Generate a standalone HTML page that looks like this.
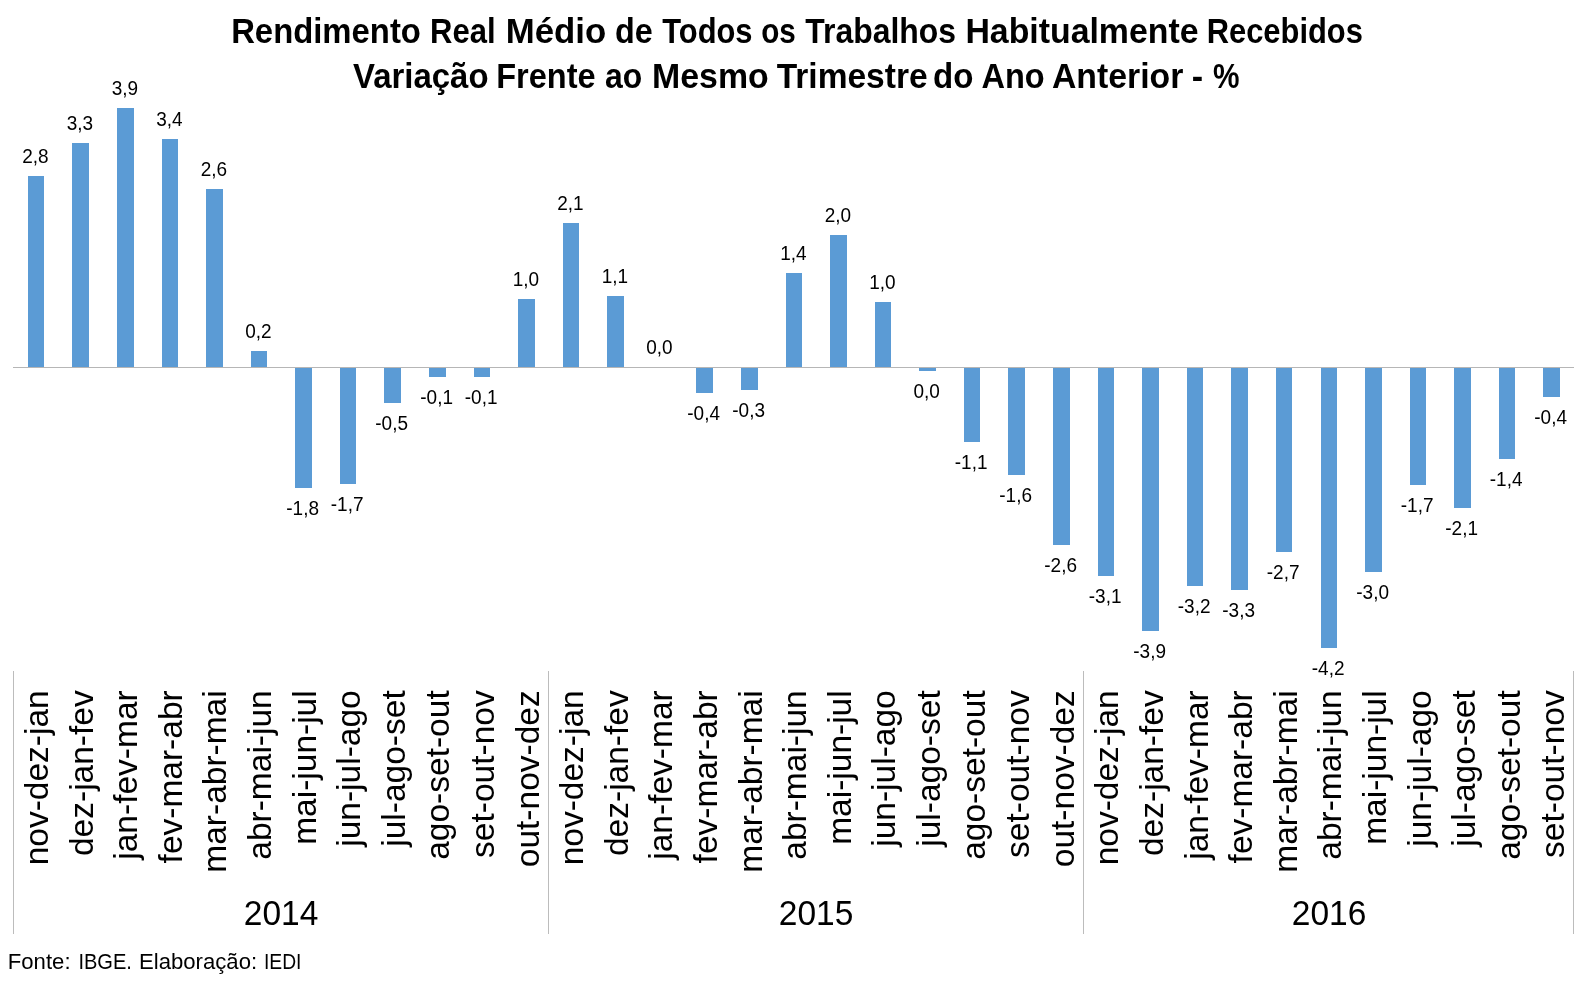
<!DOCTYPE html>
<html><head><meta charset="utf-8"><title>Rendimento Real Médio</title>
<style>html,body{margin:0;padding:0;background:#fff}body{width:1583px;height:986px;overflow:hidden}svg{display:block;will-change:transform}text{font-family:"Liberation Sans",sans-serif;fill:#000}</style></head><body>
<svg width="1583" height="986" viewBox="0 0 1583 986">
<rect width="1583" height="986" fill="#ffffff"/>
<g font-weight="bold" font-size="34.4px">
<text transform="translate(231.15,42.8) scale(0.9548,1)">Rendimento</text>
<text transform="translate(430.10,42.8) scale(0.9014,1)">Real</text>
<text transform="translate(505.79,42.8) scale(1.0112,1)">Médio</text>
<text transform="translate(615.06,42.8) scale(0.9410,1)">de</text>
<text transform="translate(662.20,42.8) scale(0.8980,1)">Todos</text>
<text transform="translate(761.24,42.8) scale(0.8632,1)">os</text>
<text transform="translate(805.30,42.8) scale(0.9278,1)">Trabalhos</text>
<text transform="translate(965.42,42.8) scale(0.9838,1)">Habitualmente</text>
<text transform="translate(1206.70,42.8) scale(0.8983,1)">Recebidos</text>
<text transform="translate(353.00,87.8) scale(0.9582,1)">Variação</text>
<text transform="translate(496.25,87.8) scale(0.9452,1)">Frente</text>
<text transform="translate(605.00,87.8) scale(0.9275,1)">ao</text>
<text transform="translate(652.02,87.8) scale(0.9846,1)">Mesmo</text>
<text transform="translate(776.70,87.8) scale(0.9747,1)">Trimestre</text>
<text transform="translate(933.04,87.8) scale(0.9625,1)">do</text>
<text transform="translate(981.45,87.8) scale(0.9462,1)">Ano</text>
<text transform="translate(1051.92,87.8) scale(0.9827,1)">Anterior</text>
<text transform="translate(1191.71,87.8) scale(0.9900,1)">-</text>
<text transform="translate(1213.00,87.8) scale(0.8667,1)">%</text>
</g>
<g fill="#5b9bd5" shape-rendering="crispEdges">
<rect x="28" y="176" width="16" height="191"/>
<rect x="72" y="143" width="17" height="224"/>
<rect x="117" y="108" width="17" height="259"/>
<rect x="162" y="139" width="16" height="228"/>
<rect x="206" y="189" width="17" height="178"/>
<rect x="251" y="351" width="16" height="16"/>
<rect x="295" y="367" width="17" height="121"/>
<rect x="340" y="367" width="16" height="117"/>
<rect x="384" y="367" width="17" height="36"/>
<rect x="429" y="367" width="17" height="10"/>
<rect x="474" y="367" width="16" height="10"/>
<rect x="518" y="299" width="17" height="68"/>
<rect x="563" y="223" width="16" height="144"/>
<rect x="607" y="296" width="17" height="71"/>
<rect x="696" y="367" width="17" height="26"/>
<rect x="741" y="367" width="17" height="23"/>
<rect x="786" y="273" width="16" height="94"/>
<rect x="830" y="235" width="17" height="132"/>
<rect x="875" y="302" width="16" height="65"/>
<rect x="919" y="367" width="17" height="4"/>
<rect x="964" y="367" width="16" height="75"/>
<rect x="1008" y="367" width="17" height="108"/>
<rect x="1053" y="367" width="17" height="178"/>
<rect x="1098" y="367" width="16" height="209"/>
<rect x="1142" y="367" width="17" height="264"/>
<rect x="1187" y="367" width="16" height="219"/>
<rect x="1231" y="367" width="17" height="223"/>
<rect x="1276" y="367" width="16" height="185"/>
<rect x="1321" y="367" width="16" height="281"/>
<rect x="1365" y="367" width="17" height="205"/>
<rect x="1410" y="367" width="16" height="118"/>
<rect x="1454" y="367" width="17" height="141"/>
<rect x="1499" y="367" width="16" height="92"/>
<rect x="1543" y="367" width="17" height="30"/>
</g>
<g fill="#b6b6b6" shape-rendering="crispEdges">
<rect x="13" y="367" width="1561" height="1"/>
</g><g fill="#bcbcbc" shape-rendering="crispEdges">
<rect x="13" y="671" width="1" height="263"/>
<rect x="548" y="671" width="1" height="263"/>
<rect x="1083" y="671" width="1" height="263"/>
<rect x="1573" y="671" width="1" height="263"/>
</g>
<g font-size="19.0px" text-anchor="middle">
<text transform="translate(35.35,162.6) scale(1,1.055)">2,8</text>
<text transform="translate(79.85,129.6) scale(1,1.055)">3,3</text>
<text transform="translate(124.85,94.6) scale(1,1.055)">3,9</text>
<text transform="translate(169.35,125.6) scale(1,1.055)">3,4</text>
<text transform="translate(213.85,175.6) scale(1,1.055)">2,6</text>
<text transform="translate(258.35,337.6) scale(1,1.055)">0,2</text>
<text transform="translate(302.60,515.1) scale(1,1.055)">-1,8</text>
<text transform="translate(347.10,511.1) scale(1,1.055)">-1,7</text>
<text transform="translate(391.60,430.1) scale(1,1.055)">-0,5</text>
<text transform="translate(436.60,404.1) scale(1,1.055)">-0,1</text>
<text transform="translate(481.10,404.1) scale(1,1.055)">-0,1</text>
<text transform="translate(525.85,285.6) scale(1,1.055)">1,0</text>
<text transform="translate(570.35,209.6) scale(1,1.055)">2,1</text>
<text transform="translate(614.85,282.6) scale(1,1.055)">1,1</text>
<text transform="translate(659.35,353.6) scale(1,1.055)">0,0</text>
<text transform="translate(703.60,420.1) scale(1,1.055)">-0,4</text>
<text transform="translate(748.60,417.1) scale(1,1.055)">-0,3</text>
<text transform="translate(793.35,259.6) scale(1,1.055)">1,4</text>
<text transform="translate(837.85,221.6) scale(1,1.055)">2,0</text>
<text transform="translate(882.35,288.6) scale(1,1.055)">1,0</text>
<text transform="translate(926.60,398.1) scale(1,1.055)">0,0</text>
<text transform="translate(971.10,469.1) scale(1,1.055)">-1,1</text>
<text transform="translate(1015.60,502.1) scale(1,1.055)">-1,6</text>
<text transform="translate(1060.60,572.1) scale(1,1.055)">-2,6</text>
<text transform="translate(1105.10,603.1) scale(1,1.055)">-3,1</text>
<text transform="translate(1149.60,658.1) scale(1,1.055)">-3,9</text>
<text transform="translate(1194.10,613.1) scale(1,1.055)">-3,2</text>
<text transform="translate(1238.60,617.1) scale(1,1.055)">-3,3</text>
<text transform="translate(1283.10,579.1) scale(1,1.055)">-2,7</text>
<text transform="translate(1328.10,675.1) scale(1,1.055)">-4,2</text>
<text transform="translate(1372.60,599.1) scale(1,1.055)">-3,0</text>
<text transform="translate(1417.10,512.1) scale(1,1.055)">-1,7</text>
<text transform="translate(1461.60,535.1) scale(1,1.055)">-2,1</text>
<text transform="translate(1506.10,486.1) scale(1,1.055)">-1,4</text>
<text transform="translate(1550.60,424.1) scale(1,1.055)">-0,4</text>
</g>
<g font-size="33.5px" text-anchor="end">
<text transform="translate(47.9,690.3) rotate(-90)">nov-dez-jan</text>
<text transform="translate(92.5,690.3) rotate(-90)">dez-jan-fev</text>
<text transform="translate(137.1,690.3) rotate(-90)">jan-fev-mar</text>
<text transform="translate(181.7,690.3) rotate(-90)">fev-mar-abr</text>
<text transform="translate(226.3,690.3) rotate(-90)">mar-abr-mai</text>
<text transform="translate(270.9,690.3) rotate(-90)">abr-mai-jun</text>
<text transform="translate(315.5,690.3) rotate(-90)">mai-jun-jul</text>
<text transform="translate(360.1,690.3) rotate(-90)">jun-jul-ago</text>
<text transform="translate(404.7,690.3) rotate(-90)">jul-ago-set</text>
<text transform="translate(449.3,690.3) rotate(-90)">ago-set-out</text>
<text transform="translate(493.9,690.3) rotate(-90)">set-out-nov</text>
<text transform="translate(538.5,690.3) rotate(-90)">out-nov-dez</text>
<text transform="translate(583.1,690.3) rotate(-90)">nov-dez-jan</text>
<text transform="translate(627.7,690.3) rotate(-90)">dez-jan-fev</text>
<text transform="translate(672.3,690.3) rotate(-90)">jan-fev-mar</text>
<text transform="translate(716.9,690.3) rotate(-90)">fev-mar-abr</text>
<text transform="translate(761.5,690.3) rotate(-90)">mar-abr-mai</text>
<text transform="translate(806.1,690.3) rotate(-90)">abr-mai-jun</text>
<text transform="translate(850.7,690.3) rotate(-90)">mai-jun-jul</text>
<text transform="translate(895.3,690.3) rotate(-90)">jun-jul-ago</text>
<text transform="translate(939.9,690.3) rotate(-90)">jul-ago-set</text>
<text transform="translate(984.5,690.3) rotate(-90)">ago-set-out</text>
<text transform="translate(1029.1,690.3) rotate(-90)">set-out-nov</text>
<text transform="translate(1073.7,690.3) rotate(-90)">out-nov-dez</text>
<text transform="translate(1118.3,690.3) rotate(-90)">nov-dez-jan</text>
<text transform="translate(1162.9,690.3) rotate(-90)">dez-jan-fev</text>
<text transform="translate(1207.5,690.3) rotate(-90)">jan-fev-mar</text>
<text transform="translate(1252.1,690.3) rotate(-90)">fev-mar-abr</text>
<text transform="translate(1296.7,690.3) rotate(-90)">mar-abr-mai</text>
<text transform="translate(1341.3,690.3) rotate(-90)">abr-mai-jun</text>
<text transform="translate(1385.9,690.3) rotate(-90)">mai-jun-jul</text>
<text transform="translate(1430.5,690.3) rotate(-90)">jun-jul-ago</text>
<text transform="translate(1475.1,690.3) rotate(-90)">jul-ago-set</text>
<text transform="translate(1519.7,690.3) rotate(-90)">ago-set-out</text>
<text transform="translate(1564.3,690.3) rotate(-90)">set-out-nov</text>
</g>
<g font-size="33.5px" text-anchor="middle">
<text transform="translate(281,924.7) scale(1,1.04)">2014</text>
<text transform="translate(816,924.7) scale(1,1.04)">2015</text>
<text transform="translate(1329,924.7) scale(1,1.04)">2016</text>
</g>
<g font-size="22.1px">
<text transform="translate(7.80,968.6) scale(1.0017,1)">Fonte:</text>
<text transform="translate(78.39,968.6) scale(0.9089,1)">IBGE.</text>
<text transform="translate(139.00,968.6) scale(1.0017,1)">Elaboração:</text>
<text transform="translate(263.93,968.6) scale(0.8732,1)">IEDI</text>
</g>
</svg></body></html>
